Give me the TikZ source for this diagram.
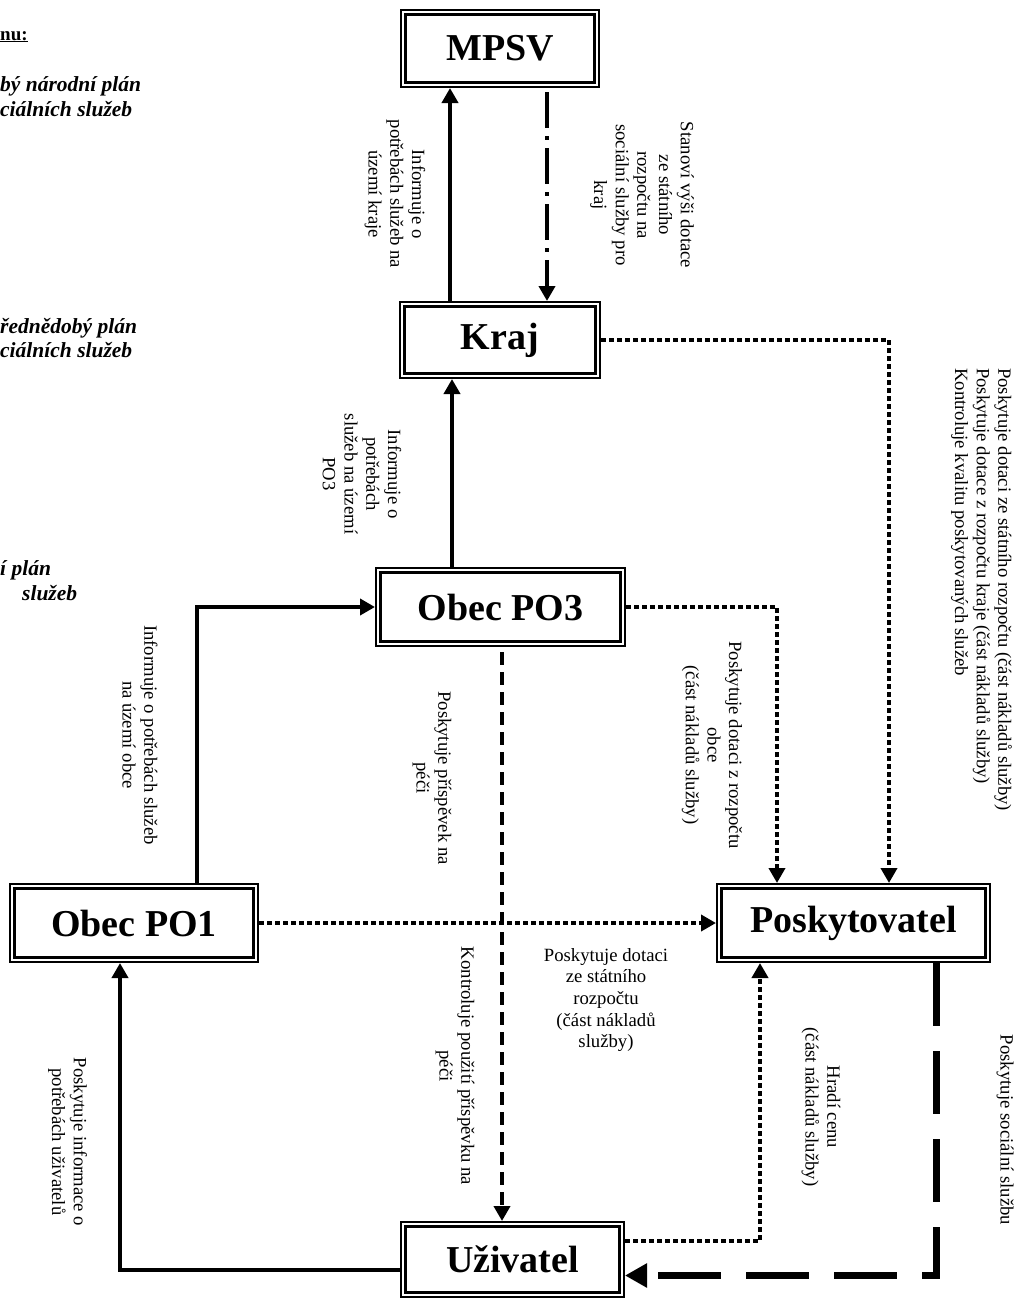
\documentclass[tikz,border=0pt]{standalone}
\usepackage{fontspec}
\setmainfont{Liberation Serif}
\usetikzlibrary{arrows.meta}
\tikzset{
 box/.style={draw, line width=2pt, inner sep=0pt, font=\fontsize{38}{40}\selectfont\bfseries},
 innerbox/.style={line width=3.5pt},
 conn/.style={line width=4pt, -{Triangle[length=15pt,width=16pt]}},
 solidc/.style={conn},
 dotc/.style={conn, dash pattern=on 4.5pt off 3.5pt},
 dashc/.style={conn, dash pattern=on 13pt off 7pt},
 dashdotc/.style={conn, dash pattern=on 36pt off 8pt on 4pt off 8pt},
 bigdash/.style={line width=7pt, dash pattern=on 63pt off 25pt, -{Triangle[length=22pt,width=23pt]}},
 lbl/.style={font=\fontsize{18.7}{21.7}\selectfont, align=center, inner sep=0pt},
 vlbl/.style={lbl, rotate=-90},
 side/.style={font=\fontsize{21.5}{25}\selectfont\bfseries\itshape, anchor=base west, inner sep=0pt},
}
\begin{document}
\begin{tikzpicture}[x=1pt,y=-1pt]
\useasboundingbox (0,0) rectangle (1017,1299);
% boxes
\node[box, minimum width=198pt, minimum height=77pt] (mpsv) at (500,48.5) {MPSV};
\node[box, minimum width=200pt, minimum height=76pt] (kraj) at (500,340) {Kraj};
\node[box, minimum width=249pt, minimum height=78pt] (po3) at (500.5,607) {Obec PO3};
\node[box, minimum width=248pt, minimum height=78pt] (po1) at (134,923) {Obec PO1};
\node[box, minimum width=273pt, minimum height=78pt] (posk) at (853.5,923) {Poskytovatel};
\node[box, minimum width=223pt, minimum height=75pt] (uziv) at (512.5,1259.5) {Uživatel};
\foreach \n in {mpsv,kraj,po3,po1,posk,uziv}
  \draw[innerbox] ([shift={(5.7,5.7)}]\n.north west) rectangle ([shift={(-5.7,-5.7)}]\n.south east);
% helper coordinates
\coordinate (a1) at ([xshift=-48.5pt]po3.north);
\coordinate (a2) at ([xshift=1.5pt,yshift=-5pt]po3.south);
% connectors
\draw[solidc] ([xshift=-50pt]kraj.north) -- ([xshift=-50pt]mpsv.south);
\draw[dashdotc] ([xshift=47pt,yshift=-4pt]mpsv.south) -- ([xshift=47pt]kraj.north);
\draw[solidc] (a1) -- (a1 |- kraj.south);
\draw[solidc] ([xshift=63pt]po1.north) |- (po3.west);
\draw[dashc] (a2) -- (a2 |- uziv.north);
\draw[dotc] (po3.east) -| ([xshift=-76.5pt]posk.north);
\draw[dotc] (kraj.east) -| ([xshift=35.5pt]posk.north);
\draw[dotc] (po1.east) -- (posk.west);
\draw[dotc] ([yshift=19pt]uziv.east) -| ([xshift=-93.5pt]posk.south);
\draw[bigdash] ([xshift=82.5pt]posk.south) |- ([yshift=-16pt]uziv.east);
\draw[solidc] ([yshift=-10pt]uziv.west) -| ([xshift=-14pt]po1.south);
% side texts
\node[side, font=\fontsize{19}{25}\selectfont\bfseries] (t0) at (0,40) {\underline{nu:}};
\node[side] (t1a) at (0,91) {bý národní plán};
\node[side] (t1b) at (0,116) {ciálních služeb};
\node[side] (t2a) at (0,333) {řednědobý plán};
\node[side] (t2b) at (0,357) {ciálních služeb};
\node[side] (t3a) at (0,575) {í plán};
\node[side] (t3b) at (22,600) {služeb};
% labels
\node[vlbl] (l1) at (395,194) {Informuje o\\potřebách služeb na\\území kraje};
\node[vlbl] (l2) at (642,195) {Stanoví výši dotace\\ze státního\\rozpočtu na\\sociální služby pro\\kraj};
\node[vlbl] (l3) at (362,474) {Informuje o\\potřebách\\služeb na území\\PO3};
\node[vlbl] (l4) at (140,735) {Informuje o potřebách služeb\\na území obce};
\node[vlbl] (l5) at (432,778) {Poskytuje příspěvek na\\péči};
\node[vlbl] (l6) at (455,1066) {Kontroluje použití příspěvku na\\péči};
\node[vlbl] (l7) at (712,745) {Poskytuje dotaci z rozpočtu\\obce\\(část nákladů služby)};
\node[vlbl, align=left, anchor=west] (l8) at (981.5,368) {Poskytuje dotaci ze státního rozpočtu (část nákladů služby)\\Poskytuje dotace z rozpočtu kraje (část nákladů služby)\\Kontroluje kvalitu poskytovaných služeb};
\node[lbl] (l9) at (606,1000) {Poskytuje dotaci\\ze státního\\rozpočtu\\(část nákladů\\služby)};
\node[vlbl] (l10) at (821,1107) {Hradí cenu\\(část nákladů služby)};
\node[vlbl] (l11) at (1005,1130) {Poskytuje sociální službu};
\node[vlbl] (l12) at (67.5,1142) {Poskytuje informace o\\potřebách uživatelů};
\end{tikzpicture}
\end{document}
